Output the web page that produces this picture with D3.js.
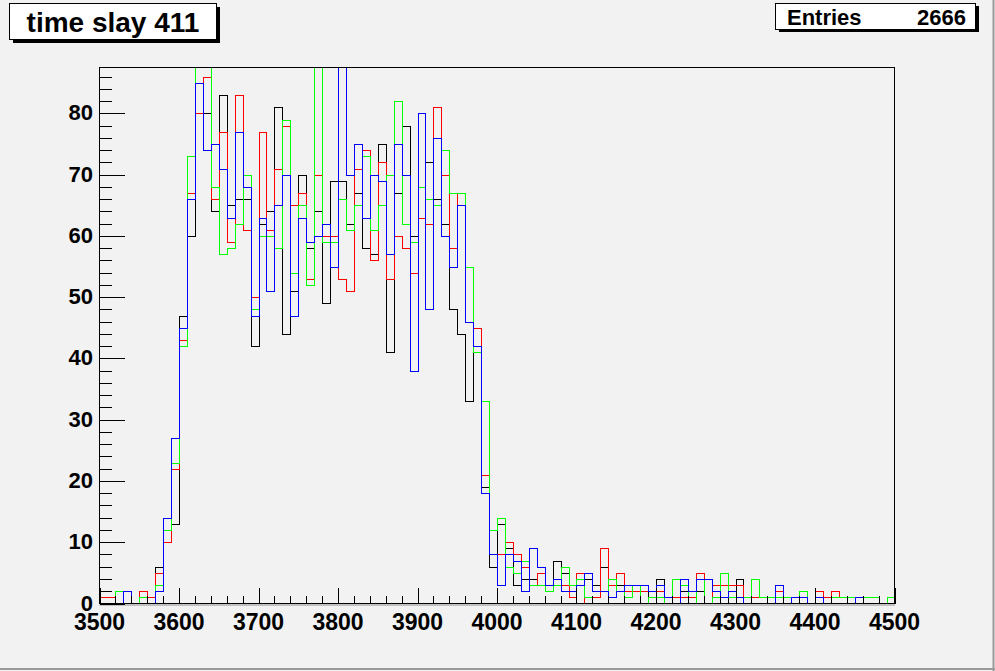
<!DOCTYPE html>
<html><head><meta charset="utf-8">
<script src="https://cdn.jsdelivr.net/npm/d3@7"></script>
<style>html,body{margin:0;padding:0;background:#f2f2f2;}svg{display:block;}</style>
</head><body>
<script>
const title = "time slay 411";
const statsLabel = "Entries";
const statsValue = "2666";
const xMin = 3500, xMax = 4500, binWidth = 10;
const yMax = 87.5;
const xTickLabels = ["3500","3600","3700","3800","3900","4000","4100","4200","4300","4400","4500"];
const yTickLabels = ["0","10","20","30","40","50","60","70","80"];

const blackVals = [0,0,0,0,0,0,0,6,14,13,
 47,60,80,80,64,83,65,66,66,42,
 62,64,81,44,51,70,58,64,49,69,
 69,62,67,58,57,75,41,67,78,60,
 63,72,66,62,48,44,33,41,19,6,
 13,9,3,4,4,3,3,7,5,2,
 5,4,3,6,3,3,1,2,2,1,
 4,0,0,2,2,2,0,3,1,0,
 4,0,0,0,0,0,0,0,0,0,
 0,0,0,0,0,1,0,0,0,0];
const redVals = [1,1,0,0,0,2,1,5,10,22,
 43,67,80,86,66,77,59,83,61,50,
 77,61,71,78,65,67,53,70,60,60,
 53,51,71,74,56,72,53,60,58,54,
 63,62,81,70,58,67,55,45,21,8,
 8,10,8,6,3,5,3,3,3,1,
 5,0,1,9,3,5,2,2,2,2,
 2,1,1,1,1,5,0,3,3,3,
 3,0,1,1,1,2,0,0,0,0,
 2,1,2,1,1,0,0,0,0,0];
const greenVals = [0,0,2,0,0,1,0,3,12,23,
 42,73,90,90,68,57,58,62,70,48,
 60,60,58,79,54,65,52,90,59,59,
 66,61,65,73,61,65,70,82,62,59,
 68,66,65,74,67,67,55,41,33,12,
 14,6,5,7,3,3,2,3,6,3,
 4,1,0,0,4,2,1,3,0,1,
 1,0,4,3,0,4,0,1,5,1,
 1,1,4,1,1,1,1,0,2,0,
 0,0,1,1,1,0,1,1,0,1];
const blueVals = [0,0,0,2,0,0,0,2,14,27,
 45,66,85,74,75,71,63,77,68,47,
 63,51,65,70,47,63,59,60,62,55,
 90,70,75,63,70,69,57,75,70,38,
 80,48,76,60,55,65,46,42,18,8,
 3,8,7,2,9,6,3,4,2,2,
 3,5,2,2,1,2,3,3,3,2,
 3,1,0,4,2,4,4,2,1,2,
 1,0,0,0,0,3,0,1,1,0,
 1,0,0,0,0,1,0,0,0,0];

const seriesOrder = [
  {vals: blackVals, color: "#000000"},
  {vals: redVals, color: "#ff0000"},
  {vals: greenVals, color: "#00ff00"},
  {vals: blueVals, color: "#0000ff"}
];

const W = 995, H = 671;
const fL = 99.5, fR = 894.5, fT = 67.5, fB = 603.5;
const svg = d3.select("body").append("svg").attr("width", W).attr("height", H);
svg.append("rect").attr("x",0).attr("y",0).attr("width",W).attr("height",H).attr("fill","#f2f2f2");
svg.append("line").attr("x1",993.5).attr("x2",993.5).attr("y1",0).attr("y2",H).attr("stroke","#9a9a9a").attr("stroke-width",2);
svg.append("line").attr("x1",0).attr("x2",W).attr("y1",669).attr("y2",669).attr("stroke","#9a9a9a").attr("stroke-width",2);

const x = d3.scaleLinear().domain([xMin, xMax]).range([fL, fR]);
const y = d3.scaleLinear().domain([0, yMax]).range([fB, fT]);

svg.append("rect").attr("x",fL).attr("y",fT).attr("width",fR-fL).attr("height",fB-fT)
  .attr("fill","#f2f2f2").attr("stroke","#000").attr("stroke-width",1);
svg.append("line").attr("x1",fL).attr("x2",fR+0.5).attr("y1",fB+1.5).attr("y2",fB+1.5).attr("stroke","#b0b0b0").attr("stroke-width",1.5);

svg.append("clipPath").attr("id","clip").append("rect")
  .attr("x",fL-0.5).attr("y",fT-0.5).attr("width",fR-fL+1).attr("height",fB-fT+1);

const line = d3.line().x(d=>Math.round(x(d[0]))+0.5).y(d=>Math.round(y(d[1]))+0.5).curve(d3.curveStepAfter);
const g = svg.append("g").attr("clip-path","url(#clip)");
seriesOrder.forEach(s => {
  const pts = s.vals.map((v,i)=>[xMin + i*binWidth, v]);
  pts.push([xMax, s.vals[s.vals.length-1]]);
  g.append("path").attr("d", line(pts)).attr("fill","none").attr("stroke", s.color).attr("stroke-width",1)
    .attr("shape-rendering","crispEdges");
});

const tg = svg.append("g").attr("stroke","#000").attr("stroke-width",1).attr("shape-rendering","crispEdges");
for (let v = xMin; v <= xMax; v += 20) {
  const major = (v % 100 === 0);
  const xx = Math.round(x(v)) + 0.5;
  tg.append("line").attr("x1",xx).attr("x2",xx).attr("y1",fB).attr("y2",fB - (major?16:8));
}
for (let v = 0; v <= 86; v += 2) {
  const major = (v % 10 === 0);
  const yy = Math.round(y(v)) + 0.5;
  tg.append("line").attr("x1",fL).attr("x2",fL + (major?25:12.5)).attr("y1",yy).attr("y2",yy);
}
svg.append("rect").attr("x",fL).attr("y",fT).attr("width",fR-fL).attr("height",fB-fT)
  .attr("fill","none").attr("stroke","#000").attr("stroke-width",1);

const font = "'Liberation Sans', Arial, Helvetica, sans-serif";
svg.append("g").selectAll("text").data(xTickLabels).join("text")
  .attr("x", d=>x(+d)).attr("y", 630).attr("text-anchor","middle")
  .attr("font-family",font).attr("font-weight","bold").attr("font-size",23).text(d=>d);
svg.append("g").selectAll("text").data(yTickLabels).join("text")
  .attr("x", 93).attr("y", d=>y(+d)+7).attr("text-anchor","end")
  .attr("font-family",font).attr("font-weight","bold").attr("font-size",22).text(d=>d);

svg.append("rect").attr("x",13).attr("y",7).attr("width",207).attr("height",36).attr("fill","#000");
svg.append("rect").attr("x",9.5).attr("y",3.5).attr("width",207).attr("height",36).attr("fill","#fff").attr("stroke","#000").attr("stroke-width",1);
svg.append("text").attr("x",113).attr("y",32).attr("text-anchor","middle")
  .attr("font-family",font).attr("font-weight","bold").attr("font-size",28).text(title);

svg.append("rect").attr("x",779).attr("y",6).attr("width",200).attr("height",26).attr("fill","#000");
svg.append("rect").attr("x",775.5).attr("y",3.5).attr("width",200).attr("height",26).attr("fill","#fff").attr("stroke","#000").attr("stroke-width",1);
svg.append("text").attr("x",787).attr("y",25).attr("font-family",font).attr("font-weight","bold").attr("font-size",22).text(statsLabel);
svg.append("text").attr("x",966).attr("y",25).attr("text-anchor","end").attr("font-family",font).attr("font-weight","bold").attr("font-size",22).text(statsValue);
</script>
</body></html>
